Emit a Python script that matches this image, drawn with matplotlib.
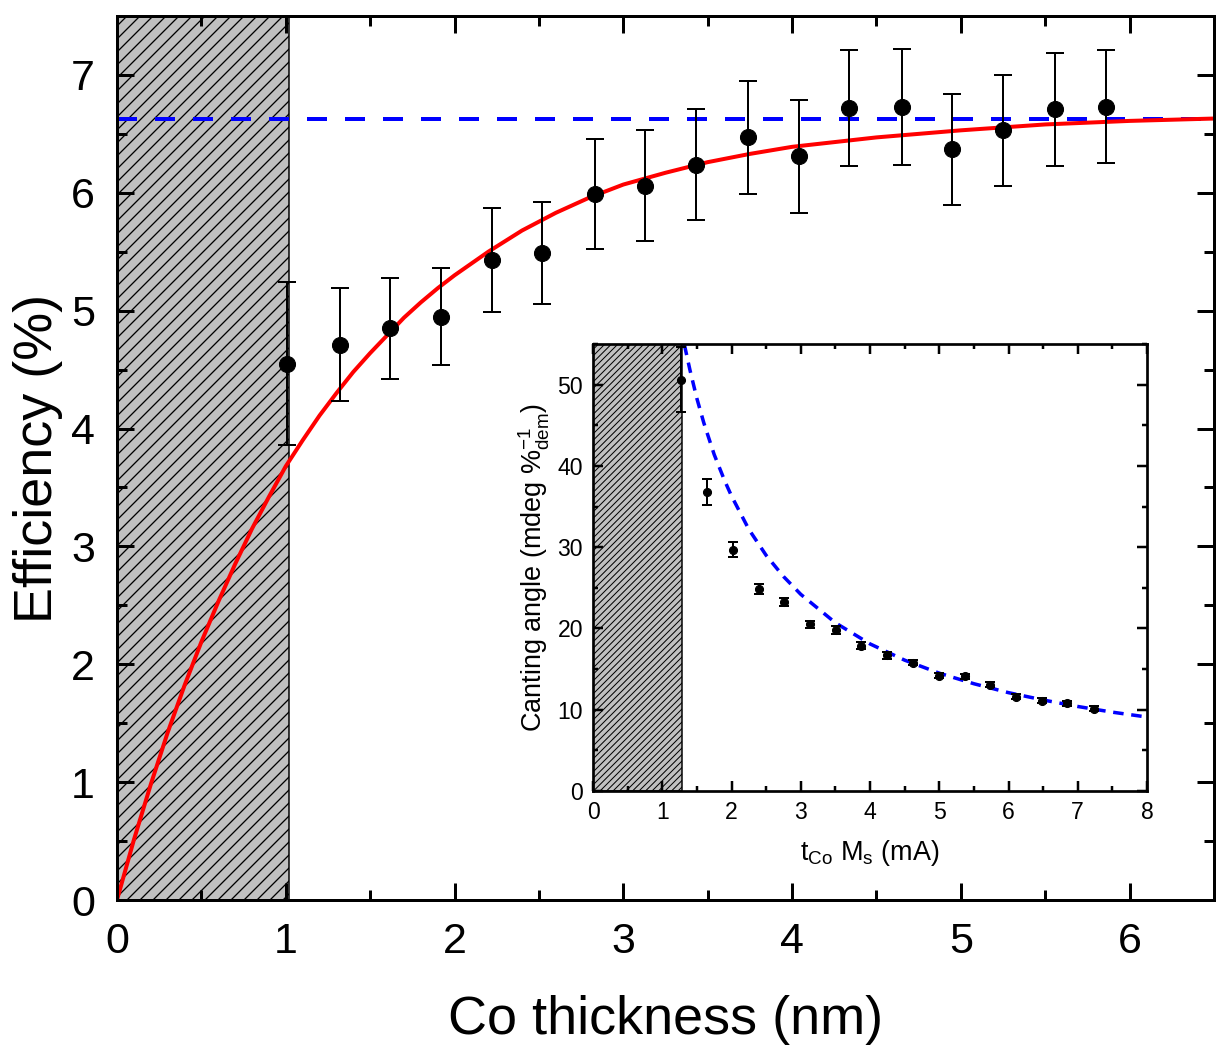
"""Spin-pumping efficiency vs Co thickness, with canting angle inset
"""

import matplotlib
matplotlib.use("Agg")
import matplotlib.pyplot as plt
from matplotlib.ticker import MultipleLocator

DPI = 78

# main panel: measured efficiency
co_thickness = [1.01, 1.32, 1.62, 1.92, 2.22, 2.52, 2.83, 3.13, 3.43,
                3.74, 4.04, 4.34, 4.65, 4.95, 5.25, 5.56, 5.86]
efficiency = [4.55, 4.71, 4.85, 4.95, 5.43, 5.49, 5.99, 6.06, 6.24,
              6.47, 6.31, 6.72, 6.73, 6.37, 6.53, 6.71, 6.73]
efficiency_err = [0.69, 0.48, 0.43, 0.41, 0.44, 0.43, 0.47, 0.47, 0.47,
                  0.48, 0.48, 0.49, 0.49, 0.47, 0.47, 0.48, 0.48]

# red fit curve
fit_x = [0, 0.1, 0.2, 0.3, 0.4, 0.5, 0.6, 0.7, 0.8, 0.9, 1.0, 1.1, 1.2,
         1.3, 1.4, 1.5, 1.6, 1.7, 1.8, 1.9, 2.0, 2.2, 2.4, 2.6, 2.8, 3.0,
         3.25, 3.5, 3.75, 4.0, 4.5, 5.0, 5.5, 6.0, 6.5]
fit_y = [0, 0.51, 0.98, 1.42, 1.82, 2.19, 2.53, 2.85, 3.15, 3.42, 3.68,
         3.90, 4.11, 4.30, 4.48, 4.64, 4.79, 4.94, 5.07, 5.19, 5.30, 5.50,
         5.68, 5.83, 5.96, 6.07, 6.17, 6.26, 6.33, 6.39, 6.47, 6.53, 6.58,
         6.61, 6.63]
saturation = 6.63
dead_layer = 1.02

# inset: canting angle
tms = [1.27, 1.65, 2.02, 2.39, 2.76, 3.13, 3.51, 3.87, 4.25, 4.62, 4.99,
       5.37, 5.74, 6.11, 6.48, 6.85, 7.23]
canting = [50.6, 36.8, 29.7, 24.9, 23.3, 20.5, 19.8, 17.9, 16.7, 15.8,
           14.2, 14.1, 13.1, 11.6, 11.1, 10.8, 10.1]
canting_err = [4.0, 1.6, 0.9, 0.6, 0.5, 0.45, 0.45, 0.4, 0.4, 0.35, 0.35,
               0.35, 0.35, 0.3, 0.3, 0.3, 0.3]

# blue dashed model curve in the inset
model_x = [1.32, 1.4, 1.5, 1.6, 1.75, 1.9, 2.0, 2.25, 2.5, 2.75, 3.0, 3.5,
           4.0, 4.5, 5.0, 5.5, 6.0, 6.5, 7.0, 7.5, 8.0]
model_y = [54.9, 51.8, 48.3, 45.3, 41.4, 38.2, 36.3, 32.2, 29.0, 26.4,
           24.2, 20.7, 18.1, 16.1, 14.5, 13.2, 12.1, 11.2, 10.4, 9.7, 9.1]
inset_dead = 1.28


def px(p):
    """pixels -> points"""
    return p * 72.0 / DPI


plt.rcParams['font.family'] = ['Liberation Sans', 'DejaVu Sans']
plt.rcParams['mathtext.fontset'] = 'custom'
plt.rcParams['mathtext.rm'] = 'Liberation Sans'
plt.rcParams['mathtext.it'] = 'Liberation Sans:italic'

fig = plt.figure(figsize=(1230 / DPI, 1053 / DPI), dpi=DPI)

# ---------------- main axes
ax = fig.add_axes([117 / 1230, 1 - 900 / 1053, 1097 / 1230, 884 / 1053])
with plt.rc_context({'hatch.linewidth': px(1.3)}):
    ax.axvspan(0, dead_layer, facecolor='#c0c0c0', edgecolor='black',
               hatch='//', linewidth=px(1.5), zorder=0)
ax.axhline(saturation, color='#0000ff', linewidth=px(4), dashes=(5, 4.5),
           zorder=2)
ax.plot(fit_x, fit_y, color='#ff0000', linewidth=px(4), zorder=2)
ax.errorbar(co_thickness, efficiency, yerr=efficiency_err, fmt='o',
            color='black', markersize=px(16), elinewidth=px(2),
            capsize=px(9), capthick=px(2), zorder=3)

ax.set_xlim(0, 6.5)
ax.set_ylim(0, 7.5)
ax.xaxis.set_major_locator(MultipleLocator(1))
ax.xaxis.set_minor_locator(MultipleLocator(0.5))
ax.yaxis.set_major_locator(MultipleLocator(1))
ax.yaxis.set_minor_locator(MultipleLocator(0.5))
ax.tick_params(which='both', direction='in', top=True, right=True,
               width=px(3))
ax.tick_params(which='major', length=px(17), labelsize=px(43), pad=px(22))
ax.tick_params(which='minor', length=px(10))
for s in ax.spines.values():
    s.set_linewidth(px(3))

ax.set_xlabel('Co thickness (nm)', fontsize=px(54))
ax.set_ylabel('Efficiency (%)', fontsize=px(54))
ax.xaxis.label.set_va('center')
ax.yaxis.label.set_va('center')
ax.xaxis.set_label_coords(0.5, (900 - 1020) / 884)
ax.yaxis.set_label_coords((38 - 117) / 1097, 0.5)

# ---------------- inset
ins = fig.add_axes([593 / 1230, 1 - 791 / 1053, 554 / 1230, 447 / 1053])
with plt.rc_context({'hatch.linewidth': px(1.0)}):
    ins.axvspan(0, inset_dead, facecolor='#c0c0c0', edgecolor='black',
                hatch='////', linewidth=px(1.5), zorder=0)
ins.plot(model_x, model_y, color='#0000ff', linewidth=px(3.5),
         dashes=(3, 2.2), zorder=2)
ins.errorbar(tms, canting, yerr=canting_err, fmt='o', color='black',
             markersize=px(8), elinewidth=px(2), capsize=px(5),
             capthick=px(2), zorder=3)

ins.set_xlim(0, 8)
ins.set_ylim(0, 55)
ins.xaxis.set_major_locator(MultipleLocator(1))
ins.xaxis.set_minor_locator(MultipleLocator(0.5))
ins.yaxis.set_major_locator(MultipleLocator(10))
ins.yaxis.set_minor_locator(MultipleLocator(5))
ins.tick_params(which='both', direction='in', top=True, right=True,
                width=px(2.5))
ins.tick_params(which='major', length=px(9.5), labelsize=px(23),
                pad=px(10))
ins.tick_params(which='minor', length=px(5))
for s in ins.spines.values():
    s.set_linewidth(px(2.7))

ins.set_xlabel(r'$\mathregular{t_{Co}\ M_s}$ (mA)', fontsize=px(27))
ins.set_ylabel(r'Canting angle (mdeg $\mathregular{\%^{-1}_{dem}}$)',
               fontsize=px(27))
ins.xaxis.label.set_va('center')
ins.yaxis.label.set_va('center')
ins.xaxis.set_label_coords(0.5, (791 - 853) / 447)
ins.yaxis.set_label_coords((534 - 593) / 554, 0.5)

fig.savefig('out.png', dpi=DPI)
